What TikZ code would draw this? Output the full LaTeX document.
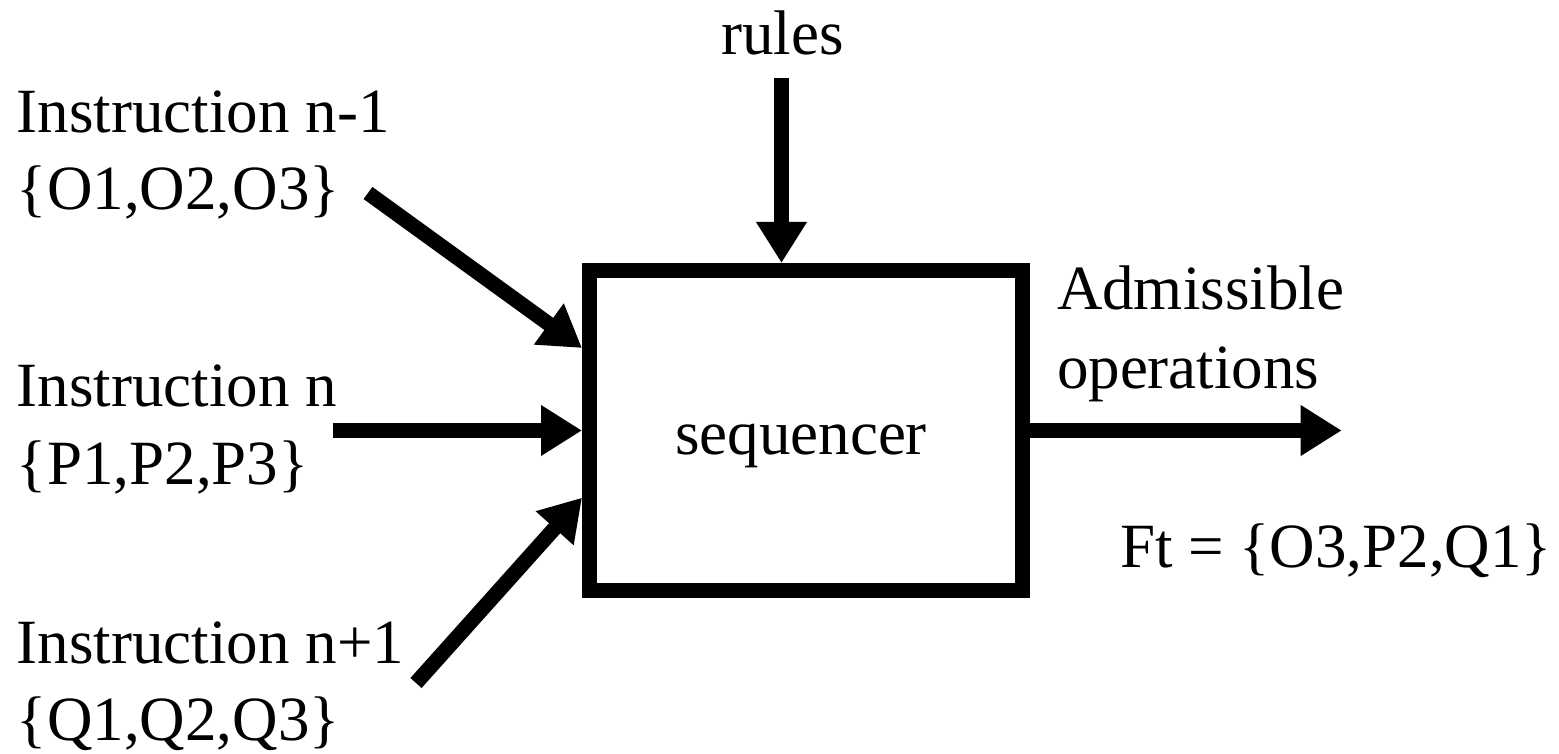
\documentclass[tikz,border=0pt]{standalone}
\usepackage{fontspec}
\setmainfont{Liberation Serif}
\usetikzlibrary{arrows.meta,calc}
\begin{document}
\begin{tikzpicture}[x=0.5pt,y=-0.5pt,
  lbl/.style={inner sep=0pt,outer sep=0pt,anchor=base west,
    font=\fontsize{31.5pt}{38.5pt}\selectfont},
  flow/.style={line width=7.5pt,-{Triangle[length=20.5pt,width=24pt]}},
  stagebox/.style={draw,line width=7.5pt,minimum width=216.5pt,
    minimum height=160pt,inner sep=0pt}]
\useasboundingbox (0,0) rectangle (1559,754);

% central block
\node[stagebox] (box) at (806,430.5) {};
\node[lbl,anchor=base] (seq) at (801,454) {sequencer};

% input labels
\node[lbl] (i1a) at (17,133) {Instruction n-1};
\node[lbl] (i1b) at (17,210) {\{O1,O2,O3\}};
\node[lbl] (i2a) at (17,407) {Instruction n};
\node[lbl] (i2b) at (17,484) {\{P1,P2,P3\}};
\node[lbl] (i3a) at (17,663) {Instruction n+1};
\node[lbl] (i3b) at (17,740) {\{Q1,Q2,Q3\}};
\node[lbl,anchor=base] (rules) at (782.5,55) {rules};

% output labels
\node[lbl] (oa) at (1057,310) {Admissible};
\node[lbl] (ob) at (1057,388) {operations};
\node[lbl] (ft) at (1120,567) {Ft = \{O3,P2,Q1\}};

% arrow tails
\coordinate (in1) at (368,193);
\coordinate (in2) at (333,430.5);
\coordinate (in3) at (416,683);
\coordinate (rin) at (781.5,78);
\coordinate (out) at (1341.7,430.5);

% arrows
\draw[flow] (in1) -- ($(box.west)+(0,-82.5)$);
\draw[flow] (in2) -- (in2 -| box.west);
\draw[flow] (in3) -- ($(box.west)+(0,67.2)$);
\draw[flow] (rin) -- (rin |- box.north);
\draw[flow] (box.east) -- (out);
\end{tikzpicture}
\end{document}
